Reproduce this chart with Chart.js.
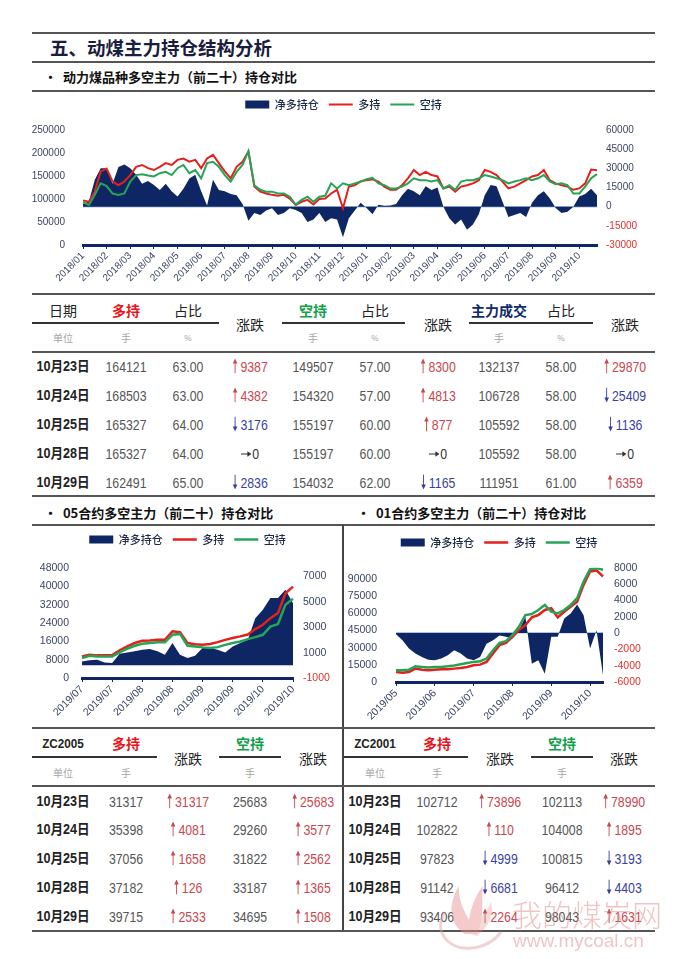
<!DOCTYPE html>
<html>
<head>
<meta charset="utf-8">
<script src="https://cdn.jsdelivr.net/npm/chart.js@4.4.0/dist/chart.umd.min.js"></script>
<style>
  html, body { margin: 0; padding: 0; background: #fff; }
  #page { position: relative; width: 683px; height: 959px; overflow: hidden;
    font-family: "Liberation Sans", "Noto Sans CJK SC", sans-serif; }
  .rule { position: absolute; }
  .t { position: absolute; transform: translate(-50%, -50%); white-space: nowrap; line-height: 1; }
  .l { position: absolute; transform: translate(0, -50%); white-space: nowrap; line-height: 1; }
  .num { font-size: 15px; color: #555; transform: translate(-50%, -50%) scaleX(0.82); }
  .arw { vertical-align: -2px; margin-right: 3px; }
  .date { font-size: 14px; font-weight: bold; color: #222; transform: translate(-50%, -50%) scaleX(0.9); }
  .head { font-size: 14px; color: #222; font-family: "Noto Sans CJK SC", sans-serif; }
  .unit { font-size: 10px; color: #a5a5a5; font-family: "Noto Sans CJK SC", sans-serif; }
  .box { position: absolute; }
  .wm { position: absolute; color: #e07c7c; opacity: 0.45; white-space: nowrap; line-height: 1; pointer-events: none; }
</style>
</head>
<body>
<div id="page">
  <div class="l" style="left:50px;top:47px;font-size:18.5px;font-weight:bold;color:#1a1d3d;font-family:'Noto Sans CJK SC'">五、动煤主力持仓结构分析</div>
  <div class="l" style="left:44px;top:76px;font-size:13px;font-weight:bold;color:#111;font-family:'Noto Sans CJK SC'">•&nbsp;&nbsp;动力煤品种多空主力（前二十）持仓对比</div>
  <div class="l" style="left:44px;top:512px;font-size:13px;font-weight:bold;color:#111;font-family:'Noto Sans CJK SC'">•&nbsp;&nbsp;05合约多空主力（前二十）持仓对比</div>
  <div class="l" style="left:357px;top:512px;font-size:13px;font-weight:bold;color:#111;font-family:'Noto Sans CJK SC'">•&nbsp;&nbsp;01合约多空主力（前二十）持仓对比</div>

  <div class="box" style="left:32px;top:89px;width:623px;height:203px"><canvas id="chartMain"></canvas></div>
  <div class="box" style="left:32px;top:524px;width:311px;height:204px"><canvas id="chart05"></canvas></div>
  <div class="box" style="left:343px;top:527px;width:312px;height:201px"><canvas id="chart01"></canvas></div>
</div>

<script>
// ---- chart data: 动力煤品种 (weekly samples, 4 per month) ----
const mainMonths = ['2018/01', '2018/02', '2018/03', '2018/04', '2018/05', '2018/06',
  '2018/07', '2018/08', '2018/09', '2018/10', '2018/11', '2018/12',
  '2019/01', '2019/02', '2019/03', '2019/04', '2019/05', '2019/06',
  '2019/07', '2019/08', '2019/09', '2019/10']
const mainNet = [
  2000, 4000, 21000, 30000, 30000, 18000, 31000, 33000, 30000, 25000, 18000, 20000,
  17000, 13000, 18000, 12000, 8000, 14000, 22000, 25000, 12000, 1000, 21000, 13000,
  12000, 10000, 9000, 2000, -11000, -5000, -6500, -3000, -1300, -6500, -5000, -1300,
  -2600, -5000, -12000, -10000, -5000, -12000, -9000, -10000, -24000, -9000, -3000, 3000,
  -1000, -6000, 1500, 800, 1000, 2000, 9000, 14000, 12000, 9000, 16000, 13000,
  15000, 0, -9000, -14000, -10000, -18000, -14000, -6000, 9000, 17000, 16000, 4000,
  -8000, -6500, -5000, -8000, 3000, 9000, 12000, 6500, -1000, -5000, -4000, 0,
  8000, 10000, 14000, 9000]
const mainLong = [
  97000, 94000, 116000, 160000, 166000, 138000, 130000, 138000, 152000, 170000, 174000, 167000,
  163000, 170000, 178000, 174000, 185000, 188000, 181000, 185000, 167000, 188000, 196000, 178000,
  160000, 145000, 170000, 181000, 203000, 127000, 116000, 112000, 109000, 107000, 109000, 101000,
  87000, 94000, 98000, 88000, 100000, 101000, 112000, 120000, 80000, 127000, 130000, 138000,
  141000, 143000, 138000, 127000, 120000, 120000, 130000, 145000, 163000, 152000, 159000, 152000,
  149000, 123000, 127000, 116000, 127000, 130000, 134000, 141000, 163000, 159000, 152000, 138000,
  123000, 127000, 134000, 141000, 149000, 152000, 163000, 141000, 134000, 130000, 127000, 120000,
  123000, 134000, 164000, 162500]
const mainShort = [
  93000, 87000, 109000, 134000, 128000, 112000, 109000, 112000, 138000, 152000, 154000, 151000,
  149000, 156000, 159000, 152000, 167000, 174000, 156000, 163000, 145000, 178000, 181000, 170000,
  152000, 138000, 159000, 174000, 204000, 130000, 120000, 116000, 116000, 112000, 112000, 105000,
  88000, 98000, 105000, 94000, 105000, 107000, 134000, 123000, 134000, 130000, 134000, 138000,
  143000, 146000, 134000, 130000, 123000, 123000, 127000, 134000, 145000, 141000, 141000, 138000,
  141000, 123000, 130000, 120000, 138000, 141000, 141000, 145000, 152000, 149000, 145000, 141000,
  134000, 138000, 141000, 145000, 141000, 145000, 152000, 138000, 132000, 134000, 130000, 112000,
  112000, 127000, 145000, 154000]

// ---- chart data: 05合约 (4 samples per half month) ----
const c05Ticks = ['2019/07', '2019/07', '2019/08', '2019/08', '2019/09', '2019/09', '2019/10', '2019/10']
const c05Net = [310, 390, 440, 230, 180, 910, 1020, 1100, 1230, 1280, 1100, 840, 1750, 840, 570,
  760, 1360, 1360, 1230, 1020, 1490, 1750, 2020, 3720, 4380, 5300, 5300, 5950, 4900]
const c05Long = [9450, 10200, 9900, 9900, 10000, 12100, 13800, 15300, 16300, 16400, 16700, 16700,
  20400, 20000, 15300, 14800, 14500, 14900, 15700, 16700, 17500, 18200, 19000, 21400, 23300,
  26200, 28400, 37100, 40000]
const c05Short = [8700, 9700, 9450, 9450, 9450, 11200, 12800, 14100, 15000, 15300, 15600, 15600,
  18900, 19300, 14100, 13800, 13400, 13100, 13500, 14500, 15300, 16000, 17000, 17900, 18900,
  22500, 23600, 32000, 34700]
const c05LeftTicks = [0, 8000, 16000, 24000, 32000, 40000, 48000]
const c05RightTicks = [-1000, 1000, 3000, 5000, 7000]

// ---- chart data: 01合约 (6 samples per month) ----
const c01Months = ['2019/05', '2019/06', '2019/07', '2019/08', '2019/09', '2019/10']
const c01Net = [-150, -880, -1900, -2520, -2930, -3260, -3340, -3130, -2730, -2110, -2520, -3130,
  -3340, -2930, -1300, -880, -300, -470, -680, 350, 1990, -3750, -3340, -4980, -470, -470,
  1780, 2390, 3500, 2190, -1900, 350, -5180]
const c01Long = [8800, 8200, 8800, 11700, 10800, 10300, 10800, 11100, 11100, 11700, 12300, 13200,
  14600, 15200, 17600, 24900, 32200, 34300, 39600, 45400, 49800, 56500, 58600, 63000, 64500,
  56500, 61500, 65900, 70300, 85000, 96700, 97600, 92300]
const c01Short = [10300, 10300, 10800, 13800, 13200, 12600, 13200, 13200, 13800, 14400, 15500, 16700,
  17600, 18200, 20500, 27800, 34300, 35700, 41000, 48300, 58600, 59500, 63000, 67400, 61500,
  60000, 63000, 67400, 73300, 87900, 98700, 99600, 98200]
const c01LeftTicks = [0, 15000, 30000, 45000, 60000, 75000, 90000]

// ---- table data ----
const tDates = ['10月23日', '10月24日', '10月25日', '10月28日', '10月29日']
const tLong = [164121, 168503, 165327, 165327, 162491]
const tLongPct = ['63.00', '63.00', '64.00', '64.00', '65.00']
const tLongChg = [9387, 4382, -3176, 0, -2836]
const tShort = [149507, 154320, 155197, 155197, 154032]
const tShortPct = ['57.00', '57.00', '60.00', '60.00', '62.00']
const tShortChg = [8300, 4813, 877, 0, -1165]
const tVol = [132137, 106728, 105592, 105592, 111951]
const tVolPct = ['58.00', '58.00', '58.00', '58.00', '61.00']
const tVolChg = [29870, -25409, -1136, 0, 6359]

const zc05Long = [31317, 35398, 37056, 37182, 39715]
const zc05LongChg = [31317, 4081, 1658, 126, 2533]
const zc05Short = [25683, 29260, 31822, 33187, 34695]
const zc05ShortChg = [25683, 3577, 2562, 1365, 1508]
const zc01Long = [102712, 102822, 97823, 91142, 93406]
const zc01LongChg = [73896, 110, -4999, -6681, 2264]
const zc01Short = [102113, 104008, 100815, 96412, 98043]
const zc01ShortChg = [78990, 1895, -3193, -4403, 1631]

// ---- colours ----
const NAVY = '#0e2764'
const RED = '#e3211c'
const GREEN = '#27a356'
const TICK = '#3a4663'
const NEG = '#e0302a'
const UP = '#c9474f'
const DOWN = '#3a3fa3'

const page = document.getElementById('page')

// Put a piece of text centred on x, y
function put(html, x, y, cls, css) {
  const d = document.createElement('div')
  d.className = 't ' + (cls || '')
  d.style.left = x + 'px'
  d.style.top = y + 'px'
  if (css) d.style.cssText += css
  d.innerHTML = html
  page.appendChild(d)
}

// Horizontal rule
function hr(x1, x2, y, h, color) {
  const d = document.createElement('div')
  d.className = 'rule'
  d.style.cssText = `left:${x1}px;width:${x2 - x1}px;top:${y - h / 2}px;height:${h}px;background:${color || '#555'}`
  page.appendChild(d)
}

function vr(x, y1, y2, w, color) {
  const d = document.createElement('div')
  d.className = 'rule'
  d.style.cssText = `left:${x - w / 2}px;width:${w}px;top:${y1}px;height:${y2 - y1}px;background:${color || '#444'}`
  page.appendChild(d)
}

// Thin arrows drawn as small svgs (font arrows fall back to emoji)
const ARROW_UP = '<svg class="arw" width="7" height="15" viewBox="0 0 7 15"><path d="M3.5 0L6.3 5H0.7Z" fill="currentColor"/><path d="M3.5 4V15" stroke="currentColor" stroke-width="1.1"/></svg>'
const ARROW_DOWN = '<svg class="arw" width="7" height="15" viewBox="0 0 7 15"><path d="M3.5 15L6.3 10H0.7Z" fill="currentColor"/><path d="M3.5 0V11" stroke="currentColor" stroke-width="1.1"/></svg>'
const ARROW_RIGHT = '<svg class="arw" style="vertical-align:1px;margin-right:1px" width="13" height="7" viewBox="0 0 13 7"><path d="M13 3.5L8 6.3V0.7Z" fill="currentColor"/><path d="M0 3.5H9" stroke="currentColor" stroke-width="1.1"/></svg>'

// Formatted change cell
function chg(v) {
  if (v > 0) return `<span style="color:${UP}">${ARROW_UP}${v}</span>`
  if (v < 0) return `<span style="color:${DOWN}">${ARROW_DOWN}${-v}</span>`
  return `<span style="color:#333">${ARROW_RIGHT}0</span>`
}

// ---- page rules ----
hr(32, 655, 33, 2.5)
hr(32, 655, 62, 2.5)
hr(32, 655, 91, 2.5)

// ---- top table ----
const cols = [63, 126, 188, 250, 313, 375, 438, 499, 561, 625]
hr(32, 655, 294, 2.5)
put('日期', cols[0], 310, 'head')
put('多持', cols[1], 310, 'head', `color:#e8141b;font-weight:bold`)
put('占比', cols[2], 310, 'head')
put('空持', cols[4], 310, 'head', `color:#12a14a;font-weight:bold`)
put('占比', cols[5], 310, 'head')
put('主力成交', cols[7], 310, 'head', `color:#0f2a6b;font-weight:bold`)
put('占比', cols[8], 310, 'head')
put('涨跌', cols[3], 324, 'head')
put('涨跌', cols[6], 324, 'head')
put('涨跌', cols[9], 324, 'head')
hr(32, 219, 323, 1.5, '#333')
hr(282, 405, 323, 1.5, '#333')
hr(469, 593, 323, 1.5, '#333')
put('单位', cols[0], 338, 'unit')
;[1, 4, 7].forEach(i => put('手', cols[i], 338, 'unit'))
;[2, 5, 8].forEach(i => put('%', cols[i], 338, 'unit', 'font-size:8px'))
hr(32, 655, 352, 2.5)
const rowsTop = [366, 395, 424, 453, 482]
tDates.forEach((d, i) => {
  const y = rowsTop[i]
  put(d, cols[0], y, 'date')
  put(tLong[i], cols[1], y, 'num')
  put(tLongPct[i], cols[2], y, 'num')
  put(chg(tLongChg[i]), cols[3], y, 'num')
  put(tShort[i], cols[4], y, 'num')
  put(tShortPct[i], cols[5], y, 'num')
  put(chg(tShortChg[i]), cols[6], y, 'num')
  put(tVol[i], cols[7], y, 'num')
  put(tVolPct[i], cols[8], y, 'num')
  put(chg(tVolChg[i]), cols[9], y, 'num')
})
hr(32, 655, 496, 2.5)

// ---- bottom section rules ----
hr(32, 655, 525, 2.5)
vr(343, 525, 931, 1.5)
hr(32, 655, 728, 2.5)

// ---- bottom tables ----
function smallTable(code, xs, long, longChg, short, shortChg, r1, r2) {
  put(code, xs[0], 743, 'date', 'font-size:13px')
  put('多持', xs[1], 743, 'head', 'color:#e8141b;font-weight:bold')
  put('空持', xs[3], 743, 'head', 'color:#12a14a;font-weight:bold')
  put('涨跌', xs[2], 758, 'head')
  put('涨跌', xs[4], 758, 'head')
  hr(r1[0], r1[1], 757, 1.5, '#333')
  hr(r2[0], r2[1], 757, 1.5, '#333')
  put('单位', xs[0], 773, 'unit')
  put('手', xs[1], 773, 'unit')
  put('手', xs[3], 773, 'unit')
  const rows = [801, 829, 858, 887, 916]
  tDates.forEach((d, i) => {
    put(d, xs[0], rows[i], 'date')
    put(long[i], xs[1], rows[i], 'num')
    put(chg(longChg[i]), xs[2], rows[i], 'num')
    put(short[i], xs[3], rows[i], 'num')
    put(chg(shortChg[i]), xs[4], rows[i], 'num')
  })
}
hr(32, 655, 786, 2.5)
smallTable('ZC2005', [63, 126, 188, 250, 313], zc05Long, zc05LongChg, zc05Short, zc05ShortChg, [32, 157], [219, 281])
smallTable('ZC2001', [375, 437, 500, 562, 624], zc01Long, zc01LongChg, zc01Short, zc01ShortChg, [344, 468], [531, 593])
hr(32, 655, 931, 2.5)

// ---- watermark (logo + site name), laid over the table ----
page.insertAdjacentHTML('beforeend', `
  <svg style="position:absolute;left:425px;top:872px;pointer-events:none" width="95" height="80" viewBox="0 0 95 80">
    <g fill="#e88a8a" opacity="0.45">
      <path d="M40 62 C22 50 24 30 34 14 C33 30 40 40 44 48 C46 36 50 24 58 14 C56 30 60 44 52 62 Z"/>
      <path d="M46 62 C50 48 62 42 66 30 C70 44 62 56 52 64 Z" opacity="0.7"/>
    </g>
    <path d="M20 40 C8 58 22 78 46 76 C60 75 70 68 76 60" fill="none" stroke="#d9a0a0" stroke-width="3" opacity="0.45"/>
  </svg>
  <div class="wm" style="left:512px;top:898px;font-size:30px;font-family:'Noto Sans CJK SC';font-weight:300">我的煤炭网</div>
  <div class="wm" style="left:513px;top:931px;font-size:19px">www.mycoal.cn</div>`)

// ---- charts ----
Chart.defaults.font.family = '"Liberation Sans", "Noto Sans CJK SC", sans-serif'

// Extra space below the legend
const legendGap = {
  id: 'legendGap',
  beforeInit(chart, args, opts) {
    const fit = chart.legend.fit
    chart.legend.fit = function () {
      fit.call(this)
      this.height += opts.gap || 0
    }
  },
}

function tickList(list) {
  return scale => { scale.ticks = list.map(v => ({ value: v })) }
}

function makeChart(id, cfg) {
  return new Chart(document.getElementById(id), {
    type: 'line',
    data: {
      labels: cfg.labels,
      datasets: [
        { label: '净多持仓', data: cfg.net, yAxisID: 'y1', fill: 'origin', backgroundColor: NAVY,
          borderColor: NAVY, borderWidth: 0, pointRadius: 0, pointStyle: 'rect', order: 3 },
        { label: '多持', data: cfg.long, yAxisID: 'y', fill: false, borderColor: RED, backgroundColor: RED,
          borderWidth: cfg.lineWidth, pointRadius: 0, pointStyle: 'line', order: 2 },
        { label: '空持', data: cfg.short, yAxisID: 'y', fill: false, borderColor: GREEN, backgroundColor: GREEN,
          borderWidth: cfg.lineWidth, pointRadius: 0, pointStyle: 'line', order: 1 },
      ],
    },
    plugins: [legendGap],
    options: {
      responsive: true,
      maintainAspectRatio: false,
      animation: false,
      plugins: {
        legend: {
          position: 'top',
          labels: {
            usePointStyle: true, pointStyleWidth: 24, boxHeight: 8, padding: 10,
            color: '#1e2a4a', font: { size: 11, weight: '500', family: '"Noto Sans CJK SC", sans-serif' },
            sort: (a, b) => a.datasetIndex - b.datasetIndex,
          },
        },
        tooltip: { enabled: false },
        legendGap: { gap: cfg.gap },
      },
      scales: {
        x: {
          ticks: { autoSkip: false, minRotation: 45, maxRotation: 45, color: TICK, font: { size: cfg.xFont }, padding: 1 },
          afterBuildTicks: s => { s.ticks = s.ticks.filter((t, i) => i % cfg.every === 0) },
          grid: { drawOnChartArea: false, drawTicks: true, tickLength: 4, color: NAVY, lineWidth: 1 },
          border: { display: true, color: NAVY, width: 3 },
          afterFit: s => { s.height = cfg.xHeight },
        },
        y: {
          position: 'left',
          min: cfg.yMin, max: cfg.yMax,
          afterBuildTicks: tickList(cfg.yTicks),
          ticks: { color: TICK, font: { size: cfg.yFont }, padding: cfg.padL, callback: v => String(v) },
          grid: { display: false },
          border: { display: false },
          afterFit: s => { s.width = cfg.leftWidth },
        },
        y1: {
          position: 'right',
          min: cfg.y1Min, max: cfg.y1Max,
          afterBuildTicks: tickList(cfg.y1Ticks),
          ticks: {
            font: { size: cfg.yFont }, padding: cfg.padR, callback: v => String(v),
            color: c => (c.tick && c.tick.value < 0 ? NEG : TICK),
          },
          grid: {
            drawOnChartArea: true, drawTicks: false, lineWidth: 1.5,
            color: c => (c.tick && c.tick.value === 0 ? '#a9c4e4' : 'rgba(0,0,0,0)'),
          },
          border: { display: false },
          afterFit: s => { s.width = cfg.rightWidth },
        },
      },
    },
  })
}

makeChart('chartMain', {
  labels: mainMonths.flatMap(m => [m, m, m, m]),
  net: mainNet, long: mainLong, short: mainShort,
  every: 4, lineWidth: 2, gap: 10, xHeight: 47, xFont: 10, yFont: 10,
  yMin: 0, yMax: 250000, yTicks: [0, 50000, 100000, 150000, 200000, 250000],
  y1Min: -30000, y1Max: 60000, y1Ticks: [-30000, -15000, 0, 15000, 30000, 45000, 60000],
  leftWidth: 51, rightWidth: 58, padL: 10, padR: 9,
})

makeChart('chart05', {
  labels: c05Ticks.flatMap(m => [m, m, m, m]).slice(0, c05Net.length),
  net: c05Net, long: c05Long, short: c05Short,
  every: 4, lineWidth: 2.5, gap: 13.3, xHeight: 50, xFont: 10.5, yFont: 10.5,
  yMin: 0, yMax: 48000, yTicks: c05LeftTicks,
  y1Min: -1000, y1Max: 7650, y1Ticks: c05RightTicks,
  leftWidth: 50, rightWidth: 50, padL: 5, padR: 10,
})

makeChart('chart01', {
  labels: c01Months.flatMap(m => [m, m, m, m, m, m]).slice(0, c01Net.length),
  net: c01Net, long: c01Long, short: c01Short,
  every: 6, lineWidth: 2.5, gap: 9.7, xHeight: 46, xFont: 10.5, yFont: 10.5,
  yMin: 0, yMax: 100000, yTicks: c01LeftTicks,
  y1Min: -6000, y1Max: 8000, y1Ticks: [-6000, -4000, -2000, 0, 2000, 4000, 6000, 8000],
  leftWidth: 53, rightWidth: 52, padL: 11, padR: 11,
})
</script>
</body>
</html>
